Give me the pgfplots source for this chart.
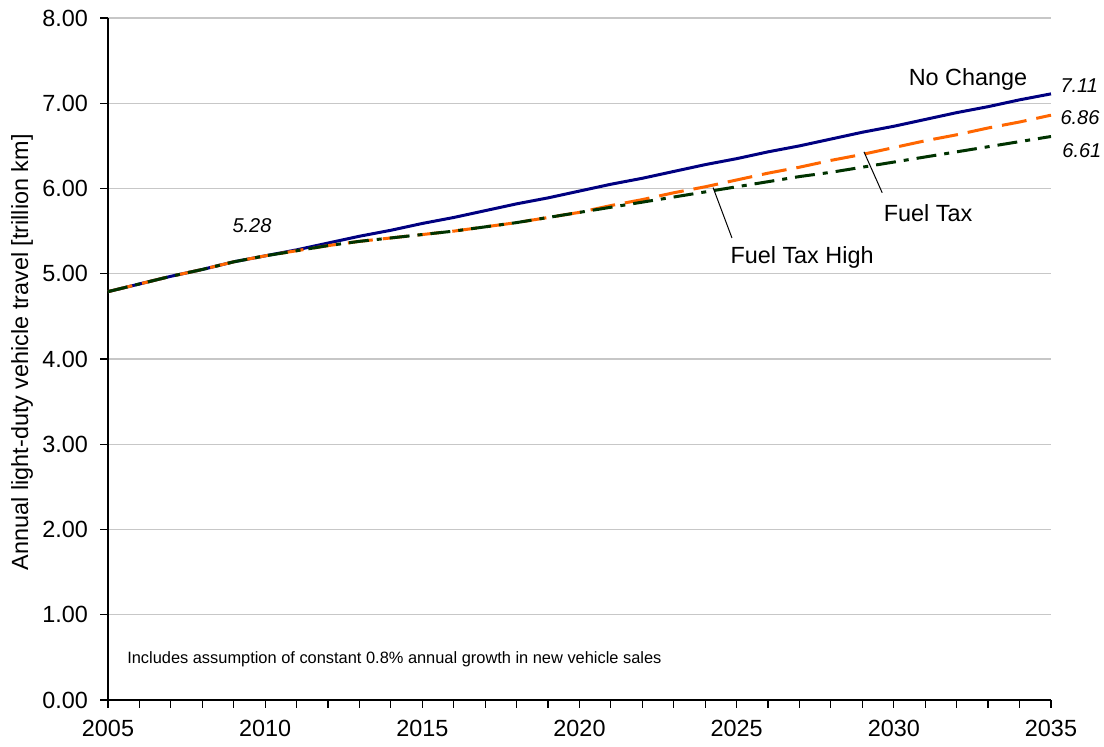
\documentclass[border=0pt]{standalone}
\usepackage{fontspec}
\setmainfont{Liberation Sans}
\usepackage{pgfplots}
\pgfplotsset{compat=1.18}
\usetikzlibrary{calc}
\definecolor{ncblue}{RGB}{0,0,128}
\definecolor{ftorange}{RGB}{255,102,0}
\definecolor{fthgreen}{RGB}{0,51,0}
\begin{document}
\begin{tikzpicture}[font=\fontsize{11.7}{14}\selectfont]
\begin{axis}[name=ax, scale only axis, width=471.5pt, height=341pt,
  xmin=2005, xmax=2035, ymin=0, ymax=8,
  axis x line*=bottom, axis y line*=left,
  axis line style={black, line width=0.7pt},
  xtick={2005,2010,...,2035}, minor xtick={2005,...,2035},
  ytick={0,1,...,8},
  tick align=outside, major tick length=4pt, minor tick length=4pt,
  every tick/.style={black, line width=0.6pt},
  ymajorgrids, major grid style={black!22, line width=0.6pt},
  xticklabel style={/pgf/number format/set thousands separator={}, yshift=-5pt, inner sep=1pt},
  yticklabel style={/pgf/number format/.cd, fixed, fixed zerofill, precision=2, /tikz/xshift=-2.5pt},
  /pgf/number format/assume math mode=true,
  ylabel={Annual light-duty vehicle travel [trillion km]},
  ylabel style={at={(axis description cs:-0.091,0.51)}, anchor=center},
  clip=false,
]
% No Change
\addplot[ncblue, line width=1.5pt] coordinates {
  (2005,4.79) (2006,4.88) (2007,4.97) (2008,5.05) (2009,5.14) (2010,5.21)
  (2011,5.28) (2012,5.36) (2013,5.44) (2014,5.51) (2015,5.59) (2016,5.66)
  (2017,5.74) (2018,5.82) (2019,5.89) (2020,5.97) (2021,6.05) (2022,6.12)
  (2023,6.20) (2024,6.28) (2025,6.35) (2026,6.43) (2027,6.50) (2028,6.58)
  (2029,6.66) (2030,6.73) (2031,6.81) (2032,6.89) (2033,6.96) (2034,7.04)
  (2035,7.11)
};
% Fuel Tax
\addplot[ftorange, line width=1.5pt, dash pattern=on 12.5pt off 5pt] coordinates {
  (2005,4.79) (2006,4.88) (2007,4.97) (2008,5.05) (2009,5.14) (2010,5.21)
  (2011,5.27) (2012,5.33) (2013,5.38) (2014,5.42) (2015,5.46) (2016,5.50)
  (2017,5.55) (2018,5.60) (2019,5.66) (2020,5.72) (2021,5.80) (2022,5.87)
  (2023,5.95) (2024,6.02) (2025,6.10) (2026,6.18) (2027,6.25) (2028,6.33)
  (2029,6.40) (2030,6.48) (2031,6.56) (2032,6.63) (2033,6.71) (2034,6.78)
  (2035,6.86)
};
% Fuel Tax High
\addplot[fthgreen, line width=1.5pt, dash pattern=on 10pt off 4pt on 2.5pt off 4pt] coordinates {
  (2005,4.79) (2006,4.88) (2007,4.97) (2008,5.05) (2009,5.14) (2010,5.21)
  (2011,5.27) (2012,5.33) (2013,5.38) (2014,5.42) (2015,5.46) (2016,5.50)
  (2017,5.55) (2018,5.60) (2019,5.66) (2020,5.72) (2021,5.78) (2022,5.84)
  (2023,5.90) (2024,5.96) (2025,6.02) (2026,6.08) (2027,6.14) (2028,6.19)
  (2029,6.25) (2030,6.31) (2031,6.37) (2032,6.43) (2033,6.49) (2034,6.55)
  (2035,6.61)
};
% annotations
\node at (axis cs:2032.36,7.28) {No Change};
\node[anchor=west, inner sep=0pt, font=\fontsize{10}{12}\selectfont\itshape] at (axis cs:2035.29,7.21) {7.11};
\node[anchor=west, inner sep=0pt, font=\fontsize{10}{12}\selectfont\itshape] at (axis cs:2035.29,6.83) {6.86};
\node[anchor=west, inner sep=0pt, font=\fontsize{10}{12}\selectfont\itshape] at (axis cs:2035.35,6.45) {6.61};
\node[font=\fontsize{10}{12}\selectfont\itshape] at (axis cs:2009.58,5.56) {5.28};
\draw[black, line width=0.5pt] (axis cs:2029.05,6.43) -- (axis cs:2029.63,5.95);
\node at (axis cs:2031.09,5.71) {Fuel Tax};
\draw[black, line width=0.5pt] (axis cs:2024.25,6.01) -- (axis cs:2024.85,5.42);
\node at (axis cs:2027.08,5.19) {Fuel Tax High};
\node[anchor=west, inner sep=0pt, font=\fontsize{8.2}{10}\selectfont] at (axis cs:2005.6,0.48) {Includes assumption of constant 0.8\% annual growth in new vehicle sales};
\end{axis}
\pgfresetboundingbox
\path ($(ax.south west)+(-54pt,-23.5pt)$) rectangle ($(ax.north east)+(26.5pt,9pt)$);
\end{tikzpicture}
\end{document}
